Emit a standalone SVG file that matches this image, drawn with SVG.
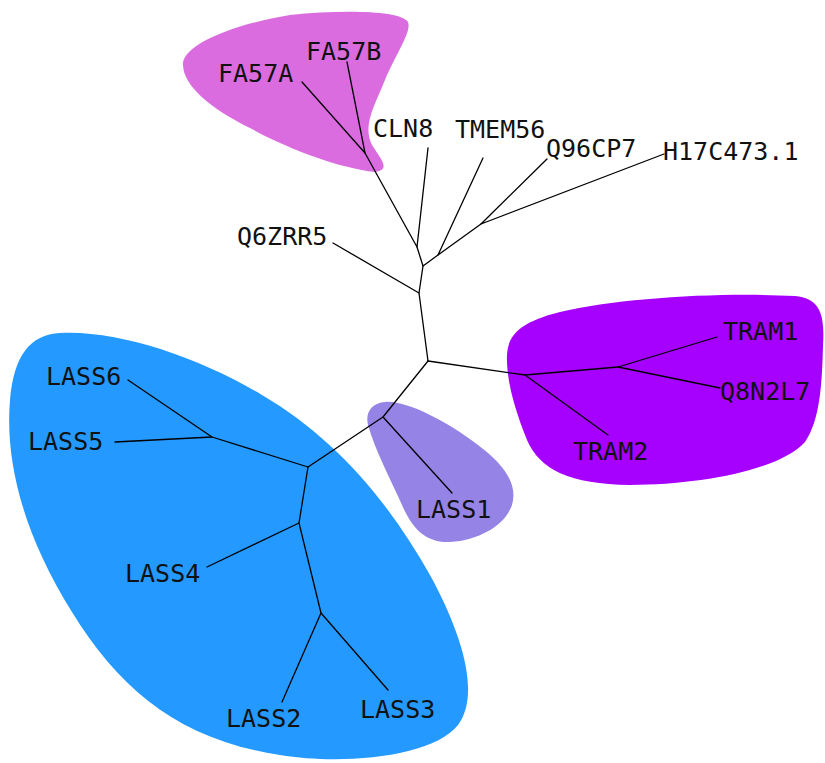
<svg xmlns="http://www.w3.org/2000/svg" width="825" height="763" viewBox="0 0 825 763">
<style>
.lbl{font-family:"DejaVu Sans Mono","Liberation Mono",monospace;font-size:25px;fill:#111}
.edge{stroke:#000;stroke-width:1.3;fill:none;stroke-linecap:round;stroke-linejoin:round}
</style>
<rect width="825" height="763" fill="#fff"/>
<g id="clades">
<path id="clade-fa57" fill="#DA6CE0" d="M183,63 C185,45 230,25 290,15 C340,10 400,10 408,22 C412,32 395,55 385,80 C375,105 362,125 372,145 C380,158 392,170 375,172 C340,168 290,150 250,128 C210,108 182,85 183,63 Z"/>
<path id="clade-tram" fill="#A600FF" d="M507,355 C508,335 520,322 560,312 C620,298 720,292 795,296 C820,298 825,315 823,345 C822,385 820,420 805,442 C780,470 700,485 630,485 C570,484 540,470 527,440 C515,410 506,380 507,355 Z"/>
<path id="clade-lass1" fill="#9583E6" d="M385,402 C405,400 445,420 478,445 C505,465 518,485 512,505 C505,525 480,540 450,542 C425,543 412,528 402,505 C390,478 375,450 368,425 C365,412 372,403 385,402 Z"/>
<path id="clade-lass" fill="#2499FF" d="M60,333 C120,330 200,358 262,395 C330,435 385,495 430,575 C468,645 478,698 458,725 C432,758 340,765 280,755 C180,740 120,690 72,612 C22,532 5,460 10,400 C14,355 30,335 60,333 Z"/>
</g>
<g id="connectors" class="edge">
<path d="M302,82 L365,153 L347,62"/>
<path d="M365,153 L417,247 L428,148"/>
<path d="M547,159 L481,224 L664,154"/>
<path d="M483,158 L438,255 L481,224"/>
<path d="M417,247 L423,266 L438,255"/>
<path d="M423,266 L419,293 L333,243"/>
<path d="M419,293 L428,361"/>
<path d="M428,361 L525,375 L608,435"/>
<path d="M525,375 L618,367 L717,337"/>
<path d="M618,367 L720,388"/>
<path d="M428,361 L383,417 L452,493"/>
<path d="M383,417 L308,467 L212,437 L128,380"/>
<path d="M212,437 L115,442"/>
<path d="M308,467 L299,523 L207,567"/>
<path d="M299,523 L321,613 L282,702"/>
<path d="M321,613 L388,690"/>
</g>
<g id="FA57B"><text class="lbl" x="306" y="60">FA57B</text></g>
<g id="FA57A"><text class="lbl" x="218" y="82">FA57A</text></g>
<g id="CLN8"><text class="lbl" x="373" y="137">CLN8</text></g>
<g id="TMEM56"><text class="lbl" x="455" y="138">TMEM56</text></g>
<g id="Q96CP7"><text class="lbl" x="546" y="157">Q96CP7</text></g>
<g id="H17C473.1"><text class="lbl" x="663" y="160">H17C473.1</text></g>
<g id="Q6ZRR5"><text class="lbl" x="237" y="245">Q6ZRR5</text></g>
<g id="TRAM1"><text class="lbl" x="723" y="340">TRAM1</text></g>
<g id="Q8N2L7"><text class="lbl" x="720" y="400">Q8N2L7</text></g>
<g id="TRAM2"><text class="lbl" x="573" y="460">TRAM2</text></g>
<g id="LASS1"><text class="lbl" x="416" y="518">LASS1</text></g>
<g id="LASS6"><text class="lbl" x="46" y="385">LASS6</text></g>
<g id="LASS5"><text class="lbl" x="28" y="450">LASS5</text></g>
<g id="LASS4"><text class="lbl" x="125" y="582">LASS4</text></g>
<g id="LASS2"><text class="lbl" x="226" y="727">LASS2</text></g>
<g id="LASS3"><text class="lbl" x="360" y="718">LASS3</text></g>
</svg>
